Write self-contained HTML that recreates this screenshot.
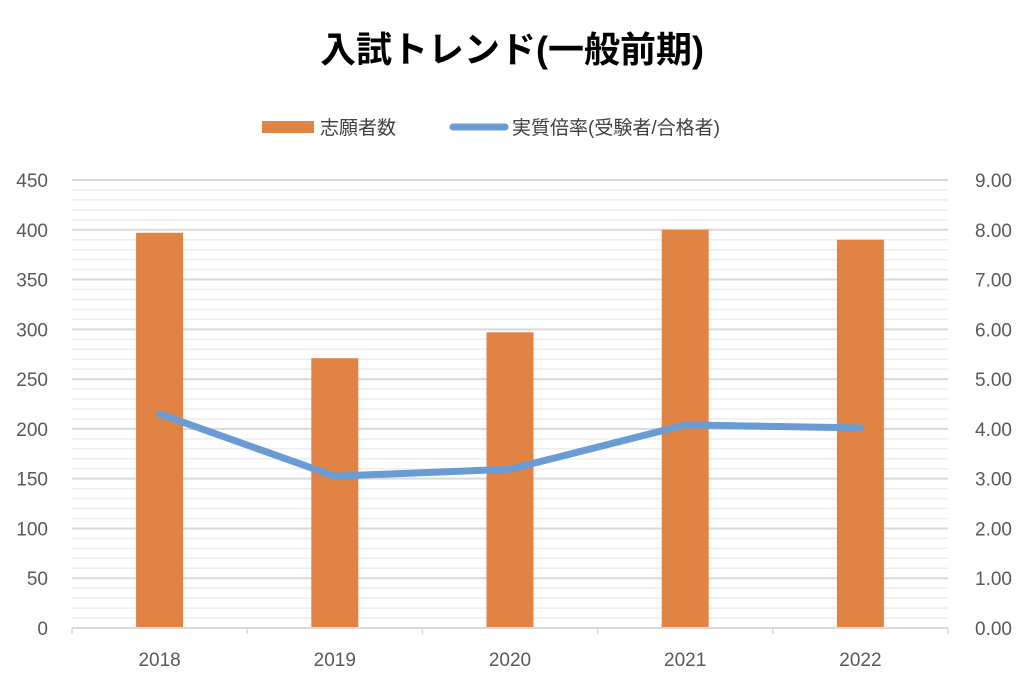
<!DOCTYPE html>
<html><head><meta charset="utf-8">
<style>
html,body{margin:0;padding:0;background:#fff;}
body{width:1024px;height:686px;overflow:hidden;font-family:"Liberation Sans","Noto Sans CJK JP",sans-serif;}
</style></head>
<body>
<svg id="chart" width="1024" height="686" xmlns="http://www.w3.org/2000/svg" font-family="Liberation Sans, Noto Sans CJK JP, sans-serif">
  <text x="512" y="62" text-anchor="middle" font-size="36" font-weight="bold" fill="#000">入試トレンド(一般前期)</text>
  <g>
    <rect x="262" y="121" width="52" height="12" fill="#E08344"/>
    <text x="320" y="134" font-size="19" fill="#404040">志願者数</text>
    <line x1="453" y1="127" x2="505" y2="127" stroke="#6A9BD3" stroke-width="7" stroke-linecap="round"/>
    <text x="512" y="134" font-size="19" fill="#404040">実質倍率(受験者/合格者)</text>
  </g>
  <g id="grid"></g>
  <g id="bars"></g>
  <g id="axes"></g>
  <g id="line"></g>
</svg>
<script>
const categories = ["2018","2019","2020","2021","2022"];
const applicants = [397, 271, 297, 400, 390];
const ratio = [4.30, 3.05, 3.19, 4.08, 4.02];
const leftTicks = ["0","50","100","150","200","250","300","350","400","450"];
const rightTicks = ["0.00","1.00","2.00","3.00","4.00","5.00","6.00","7.00","8.00","9.00"];

const NS="http://www.w3.org/2000/svg";
const x0=72,x1=948,yTop=180,yBot=628,leftMax=450,rightMax=9;
const yL=v=>yBot-(v/leftMax)*(yBot-yTop);
const yR=v=>yBot-(v/rightMax)*(yBot-yTop);
const band=(x1-x0)/categories.length;
const xC=i=>x0+band*(i+0.5);
function mk(t,a,p){const e=document.createElementNS(NS,t);for(const k in a)e.setAttribute(k,a[k]);p.appendChild(e);return e;}

const grid=document.getElementById('grid');
for(let v=10;v<=leftMax;v+=10){
  const major=v%50===0;
  const l=mk('line',{x1:x0,x2:x1,y1:yL(v),y2:yL(v),stroke:major?'#D9D9D9':'#EDEDED','stroke-width':major?2:1.5},grid);
  
  
}
const axes=document.getElementById('axes');
const xa=mk('line',{x1:x0,x2:x1,y1:yBot,y2:yBot,stroke:'#D9D9D9','stroke-width':2},axes);


for(let i=0;i<=categories.length;i++){
  const tk=mk('line',{x1:x0+band*i,x2:x0+band*i,y1:yBot,y2:yBot+6,stroke:'#D9D9D9','stroke-width':1.5},axes);
  
  
}
leftTicks.forEach((t,i)=>{
  const v=i*50;
  const e=mk('text',{x:48,y:yL(v)+7,'text-anchor':'end','font-size':19,fill:'#595959'},axes);
  e.textContent=t;
  
  
});
rightTicks.forEach((t,i)=>{
  const e=mk('text',{x:1012,y:yR(i)+7,'text-anchor':'end','font-size':19,fill:'#595959'},axes);
  e.textContent=t;
  
  
});
categories.forEach((c,i)=>{
  const e=mk('text',{x:xC(i),y:666,'text-anchor':'middle','font-size':19,fill:'#595959'},axes);
  e.textContent=c;
  
  
});
const bars=document.getElementById('bars');
const bw=47;
applicants.forEach((v,i)=>{
  const r=mk('rect',{x:xC(i)-bw/2,y:yL(v),width:bw,height:yBot-yL(v),fill:'#E08344'},bars);
  
  
});
const lg=document.getElementById('line');
const pts=ratio.map((v,i)=>xC(i)+','+yR(v)).join(' ');
const pl=mk('polyline',{points:pts,fill:'none',stroke:'#6A9BD3','stroke-width':7,'stroke-linejoin':'round','stroke-linecap':'round'},lg);


</script>
</body></html>
